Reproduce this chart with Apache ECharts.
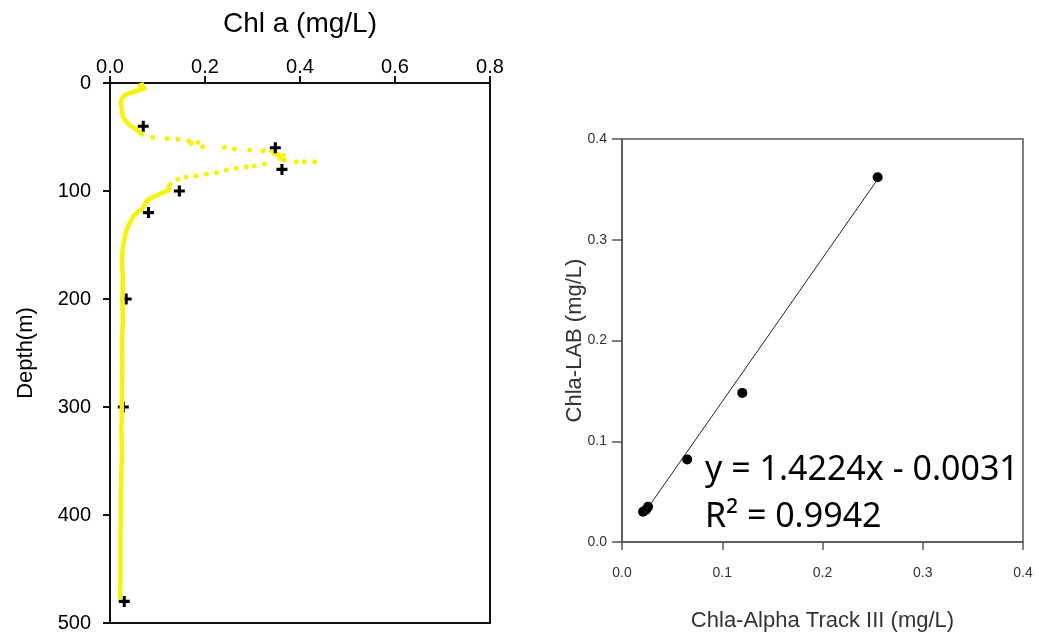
<!DOCTYPE html>
<html>
<head>
<meta charset="utf-8">
<script src="https://cdn.jsdelivr.net/npm/echarts@6/dist/echarts.min.js"></script>
<style>
html,body{margin:0;padding:0;background:#fff;}
#c{width:1039px;height:639px;}
</style>
</head>
<body>
<div id="c"></div>
<script>
// ---- Left panel: depth profile ----
const upperDepth = [1, 2, 3, 5, 7, 9, 11, 13, 16, 19, 22, 25, 28, 31, 34, 37, 40, 43, 46, 49];
const upperChl   = [0.072, 0.065, 0.060, 0.075, 0.058, 0.045, 0.033, 0.027, 0.024, 0.023, 0.024, 0.025, 0.026, 0.027, 0.031, 0.037, 0.045, 0.055, 0.063, 0.070];

const peakDepth = [50.3, 51.5, 52.1, 53.7, 55.9, 54.9, 59, 59.5, 61.1, 62, 62.7, 62.5, 65, 66, 68, 67, 70, 71, 72.9, 72.9, 72.9, 75, 76.9, 77.5, 79, 80.6, 83, 84.3, 86.1, 87.3, 89.2];
const peakChl   = [0.090, 0.120, 0.143, 0.166, 0.171, 0.185, 0.195, 0.241, 0.262, 0.294, 0.322, 0.340, 0.345, 0.352, 0.360, 0.365, 0.358, 0.367, 0.392, 0.409, 0.431, 0.325, 0.304, 0.287, 0.266, 0.245, 0.224, 0.203, 0.181, 0.160, 0.143];

const lowerDepth = [92, 96, 99, 102, 105, 108, 111, 116, 119, 122, 126, 130, 134, 139, 145, 152, 164, 180, 200, 220, 240, 260, 280, 300, 320, 340, 360, 380, 400, 420, 440, 460, 478];
const lowerChl   = [0.129, 0.124, 0.125, 0.108, 0.094, 0.080, 0.075, 0.069, 0.060, 0.052, 0.046, 0.041, 0.036, 0.033, 0.030, 0.027, 0.025, 0.027, 0.026, 0.027, 0.025, 0.026, 0.025, 0.025, 0.024, 0.025, 0.024, 0.023, 0.023, 0.022, 0.022, 0.022, 0.021];

const labDepth = [40, 60, 80, 100, 120, 200, 300, 480];
const labChl   = [0.070, 0.348, 0.362, 0.146, 0.081, 0.034, 0.028, 0.030];

const chlTicks = [0, 0.2, 0.4, 0.6, 0.8];
const depthTicks = [0, 100, 200, 300, 400, 500];

// ---- Right panel: comparison ----
const alphaTrack = [0.255, 0.120, 0.065, 0.026, 0.024, 0.021];
const labValues  = [0.362, 0.148, 0.082, 0.035, 0.032, 0.030];
const trendX = [0.021, 0.255];
const trendY = [0.027, 0.360];
const eqLine1 = 'y = 1.4224x - 0.0031';
const eqLine2 = 'R\u00B2 = 0.9942';

const zip = (a, b) => a.map((v, i) => [v, b[i]]);
const FONT = '"Liberation Sans", Arial, sans-serif';
const YEL = '#f5f500';
const plusPath = 'path://M3.6,0H6.4V3.6H10V6.4H6.4V10H3.6V6.4H0V3.6H3.6Z';

const chart = echarts.init(document.getElementById('c'));
chart.setOption({
  backgroundColor: '#fff',
  animation: false,
  textStyle: { fontFamily: FONT },
  grid: [
    { left: 110, top: 83, width: 380, height: 540, show: true, borderColor: '#111', borderWidth: 2, backgroundColor: 'transparent' },
    { left: 622, top: 139, width: 401, height: 403, show: true, borderColor: '#555', borderWidth: 1.5, backgroundColor: 'transparent' }
  ],
  xAxis: [
    {
      gridIndex: 0, type: 'value', position: 'top', min: chlTicks[0], max: chlTicks[chlTicks.length - 1], interval: 0.2,
      name: 'Chl a (mg/L)', nameLocation: 'middle', nameGap: 45,
      nameTextStyle: { fontSize: 28, color: '#000', fontFamily: FONT },
      axisLine: { show: true, lineStyle: { color: '#111', width: 2 } },
      axisTick: { show: true, inside: false, length: 7, lineStyle: { color: '#111', width: 2 } },
      axisLabel: { fontSize: 20, color: '#000', margin: 6, formatter: v => v.toFixed(1) },
      splitLine: { show: false }
    },
    {
      gridIndex: 1, type: 'value', position: 'bottom', min: 0, max: 0.4, interval: 0.1,
      name: 'Chla-Alpha Track III (mg/L)', nameLocation: 'middle', nameGap: 68,
      nameTextStyle: { fontSize: 22, color: '#333', fontFamily: FONT },
      axisLine: { show: true, lineStyle: { color: '#555', width: 1.5 } },
      axisTick: { show: true, inside: false, length: 8, lineStyle: { color: '#555', width: 1.5 } },
      axisLabel: { fontSize: 14, color: '#333', margin: 24, formatter: v => v.toFixed(1) },
      splitLine: { show: false }
    }
  ],
  yAxis: [
    {
      gridIndex: 0, type: 'value', inverse: true, min: depthTicks[0], max: depthTicks[depthTicks.length - 1], interval: 100,
      name: 'Depth(m)', nameLocation: 'middle', nameGap: 73, nameRotate: 90,
      nameTextStyle: { fontSize: 22, color: '#000', fontFamily: FONT },
      axisLine: { show: true, lineStyle: { color: '#111', width: 2 } },
      axisTick: { show: true, inside: false, length: 7, lineStyle: { color: '#111', width: 2 } },
      axisLabel: { fontSize: 20, color: '#000', margin: 19 },
      splitLine: { show: false }
    },
    {
      gridIndex: 1, type: 'value', min: 0, max: 0.4, interval: 0.1,
      name: 'Chla-LAB (mg/L)', nameLocation: 'middle', nameGap: 36, nameRotate: 90, nameMoveOverlap: false,
      nameTextStyle: { fontSize: 22, color: '#333', fontFamily: FONT },
      axisLine: { show: true, lineStyle: { color: '#555', width: 1.5 } },
      axisTick: { show: true, inside: false, length: 10, lineStyle: { color: '#555', width: 1.5 } },
      axisLabel: { fontSize: 14, color: '#333', margin: 15, formatter: v => v.toFixed(1) },
      splitLine: { show: false }
    }
  ],
  series: [
    { type: 'line', xAxisIndex: 0, yAxisIndex: 0, data: zip(upperChl, upperDepth), showSymbol: false, smooth: false,
      lineStyle: { color: YEL, width: 4.5 } },
    { type: 'scatter', xAxisIndex: 0, yAxisIndex: 0, data: zip(peakChl, peakDepth), symbolSize: 5,
      itemStyle: { color: YEL, opacity: 1 } },
    { type: 'line', xAxisIndex: 0, yAxisIndex: 0, data: zip(lowerChl, lowerDepth), showSymbol: false,
      lineStyle: { color: YEL, width: 4.5 } },
    { type: 'scatter', xAxisIndex: 0, yAxisIndex: 0, data: zip(labChl, labDepth), symbol: plusPath, symbolSize: 11,
      itemStyle: { color: '#000', opacity: 1 } },
    { type: 'line', xAxisIndex: 1, yAxisIndex: 1, data: zip(trendX, trendY), showSymbol: false,
      lineStyle: { color: '#222', width: 1 } },
    { type: 'scatter', xAxisIndex: 1, yAxisIndex: 1, data: zip(alphaTrack, labValues), symbolSize: 10,
      itemStyle: { color: '#000', opacity: 1 } }
  ],
  graphic: [
    { type: 'text', left: 705, top: 453, style: { text: eqLine1, font: '34px "Noto Sans", "Open Sans", sans-serif', fill: '#000' } },
    { type: 'text', left: 705, top: 500, style: { text: eqLine2, font: '34px "Noto Sans", "Open Sans", sans-serif', fill: '#000' } }
  ]
});
</script>
</body>
</html>
